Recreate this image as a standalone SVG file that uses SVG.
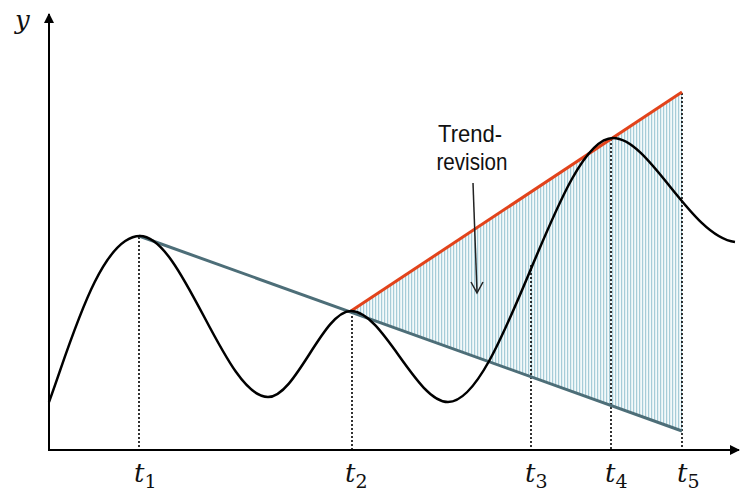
<svg xmlns="http://www.w3.org/2000/svg" width="740" height="491" viewBox="0 0 740 491">
<style>
.axis{stroke:#000;stroke-width:2;fill:none}
.dot{stroke:#000;stroke-width:1.6;stroke-dasharray:2 2;fill:none}
.tl{font-family:"DejaVu Serif","Liberation Serif",serif;font-style:italic;font-size:26px;fill:#111}
.sub{font-family:"DejaVu Serif","Liberation Serif",serif;font-style:normal;font-size:19px}
.lbl{font-family:"Liberation Sans",Arial,sans-serif;font-size:24px;fill:#111;text-anchor:middle}
</style>
<defs>
<pattern id="hatch" patternUnits="userSpaceOnUse" width="3" height="10">
<rect x="0" y="0" width="3" height="10" fill="#f3f9fa"/>
<rect x="0" y="0" width="1.2" height="10" fill="#a6ccd8"/>
</pattern>
<marker id="ah" viewBox="0 0 10 10" refX="9" refY="5" markerWidth="10" markerHeight="10" markerUnits="userSpaceOnUse" orient="auto">
<path d="M0,0 L10,5 L0,10 z" fill="#000"/>
</marker>
</defs>
<g id="shading">
<polygon points="351,311 682,92 682,431" fill="url(#hatch)"/>
</g>
<g id="axes">
<line class="axis" x1="49" y1="450" x2="49" y2="14" marker-end="url(#ah)"/>
<line class="axis" x1="48" y1="450" x2="739" y2="450" marker-end="url(#ah)"/>
<text x="15" y="29" class="tl">y</text>
</g>
<g id="dotted">
<line class="dot" x1="139" y1="237" x2="139" y2="450"/>
<line class="dot" x1="352" y1="312" x2="352" y2="450"/>
<line class="dot" x1="531" y1="265" x2="531" y2="450"/>
<line class="dot" x1="611" y1="139" x2="611" y2="450"/>
<line class="dot" x1="682" y1="93" x2="682" y2="450"/>
</g>
<g id="trendlines">
<line x1="139" y1="236" x2="682" y2="431" stroke="#4d6e78" stroke-width="3"/>
<line x1="351" y1="311" x2="682" y2="92" stroke="#e2431b" stroke-width="3"/>
</g>
<g id="curve">
<path d="M49,402 C70,345 100,236 140,236 C183,236 225,397 268,397 C296,397 323,311 351,311 C383,311 416,402 448,402 C503,402 558,138 613,138 C650,138 690,236 735,242" fill="none" stroke="#000" stroke-width="2.5"/>
</g>
<g id="label-trend">
<text x="470" y="142" class="lbl" textLength="64" lengthAdjust="spacingAndGlyphs">Trend-</text>
<text x="472" y="170" class="lbl" textLength="71" lengthAdjust="spacingAndGlyphs">revision</text>
<line x1="473" y1="183" x2="477" y2="292" stroke="#222" stroke-width="1.5"/>
<polyline points="471,282 477,293 483,282" fill="none" stroke="#222" stroke-width="1.5"/>
</g>
<g id="ticks">
<text x="134" y="482" class="tl">t<tspan class="sub" dy="6">1</tspan></text>
<text x="345" y="482" class="tl">t<tspan class="sub" dy="6">2</tspan></text>
<text x="525" y="482" class="tl">t<tspan class="sub" dy="6">3</tspan></text>
<text x="605" y="482" class="tl">t<tspan class="sub" dy="6">4</tspan></text>
<text x="677" y="482" class="tl">t<tspan class="sub" dy="6">5</tspan></text>
</g>
</svg>
